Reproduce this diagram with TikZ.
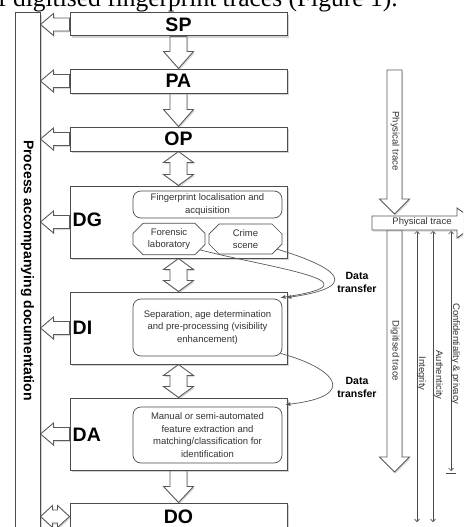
\documentclass[tikz,border=0pt]{standalone}
\usepackage{fontspec}
\setmainfont{Liberation Sans}
\newfontfamily\titlefont{Liberation Serif}
\usetikzlibrary{calc,shadows,shapes.misc,arrows.meta}
\pgfdeclarelayer{bg}
\pgfsetlayers{bg,main}
% block arrows: #1 tail, #2 tip, #3 shaft half width, #4 head half width, #5 head length
\newcommand\BlkDown[5]{\draw[blk] let \p1=(#1), \p2=(#2) in
  ({\x1-#3},\y1) -- ({\x1-#3},{\y2+#5}) -- ({\x1-#4},{\y2+#5}) -- (\x1,\y2) --
  ({\x1+#4},{\y2+#5}) -- ({\x1+#3},{\y2+#5}) -- ({\x1+#3},\y1) -- cycle;}
\newcommand\BlkUD[5]{\draw[blk] let \p1=(#1), \p2=(#2) in
  (\x1,\y1) -- ({\x1+#4},{\y1-#5}) -- ({\x1+#3},{\y1-#5}) -- ({\x1+#3},{\y2+#5}) --
  ({\x1+#4},{\y2+#5}) -- (\x1,\y2) -- ({\x1-#4},{\y2+#5}) -- ({\x1-#3},{\y2+#5}) --
  ({\x1-#3},{\y1-#5}) -- ({\x1-#4},{\y1-#5}) -- cycle;}
\newcommand\BlkLeft[5]{\draw[blk] let \p1=(#1), \p2=(#2) in
  (\x1,{\y1+#3}) -- ({\x2+#5},{\y1+#3}) -- ({\x2+#5},{\y1+#4}) -- (\x2,\y1) --
  ({\x2+#5},{\y1-#4}) -- ({\x2+#5},{\y1-#3}) -- (\x1,{\y1-#3}) -- cycle;}
\newcommand\BlkRight[5]{\draw[blk] let \p1=(#1), \p2=(#2) in
  (\x1,{\y1+#3}) -- ({\x2-#5},{\y1+#3}) -- ({\x2-#5},{\y1+#4}) -- (\x2,\y1) --
  ({\x2-#5},{\y1-#4}) -- ({\x2-#5},{\y1-#3}) -- (\x1,{\y1-#3}) -- cycle;}
\newcommand\BlkLR[5]{\draw[blk] let \p1=(#1), \p2=(#2) in
  (\x1,\y1) -- ({\x1+#5},{\y1+#4}) -- ({\x1+#5},{\y1+#3}) -- ({\x2-#5},{\y1+#3}) --
  ({\x2-#5},{\y1+#4}) -- (\x2,\y1) -- ({\x2-#5},{\y1-#4}) -- ({\x2-#5},{\y1-#3}) --
  ({\x1+#5},{\y1-#3}) -- ({\x1+#5},{\y1-#4}) -- cycle;}
\begin{document}
\begin{tikzpicture}[x=1pt,y=-1pt,
  blk/.style={draw=black!65, fill=white, line width=0.9pt, line join=miter,
    drop shadow={shadow xshift=1.2pt, shadow yshift=-1.5pt, opacity=0.3}},
  mainbox/.style={draw=black!70, fill=white, line width=1pt, inner sep=0pt,
    drop shadow={shadow xshift=1.5pt, shadow yshift=-2pt, opacity=0.35},
    font=\bfseries\fontsize{19.5}{20}\selectfont},
  biglabel/.style={anchor=west, inner sep=0pt, font=\bfseries\fontsize{19.5}{20}\selectfont},
  inbox/.style={draw=black!70, fill=white, line width=0.7pt, rounded corners=8pt,
    inner sep=0pt, align=center, text=black!80, font=\fontsize{9.5}{12.5}\selectfont},
  chbox/.style={draw=black!70, fill=white, line width=0.7pt, chamfered rectangle,
    chamfered rectangle xsep=5pt, chamfered rectangle ysep=5pt,
    inner sep=0pt, align=center, text=black!80, font=\fontsize{9.5}{12.5}\selectfont},
  small/.style={inner sep=0pt, text=black!80, font=\fontsize{9.5}{10}\selectfont},
  dtlabel/.style={align=center, inner sep=0pt, font=\bfseries\fontsize{10.5}{13}\selectfont},
  curve/.style={draw=black!65, line width=0.7pt, -{Latex[length=5pt,width=4pt]}},
  thinarr/.style={draw=black!70, line width=0.6pt, {Straight Barb[length=2.5pt,width=5pt]}-{Straight Barb[length=2.5pt,width=5pt]}}
]
\useasboundingbox (0,0) rectangle (463,527);
\clip (0,0) rectangle (463,527);

% title line (cut off at the top)
\node[anchor=base west, inner sep=0pt, font=\titlefont\fontsize{25.5}{26}\selectfont] (title) at (-2,6.5) {f digitised fingerprint traces (Figure 1).};

% documentation bar
\node[mainbox, minimum width=25pt, minimum height=530pt] (doc) at (27.5,278) {};
\node[rotate=-90, inner sep=0pt, font=\bfseries\fontsize{14}{14}\selectfont] (doct) at (27.5,270.5) {Process accompanying documentation};

% main boxes
\node[mainbox, minimum width=217pt, minimum height=23pt] (sp) at (178.5,24.5) {SP};
\node[mainbox, minimum width=217pt, minimum height=24pt] (pa) at (178.5,81) {PA};
\node[mainbox, minimum width=217pt, minimum height=24pt] (op) at (178.5,139) {OP};
\node[mainbox, minimum width=217pt, minimum height=72pt] (dg) at (178.5,222) {};
\node[mainbox, minimum width=217pt, minimum height=72pt] (di) at (178.5,328) {};
\node[mainbox, minimum width=217pt, minimum height=72pt] (da) at (178.5,434) {};
\node[mainbox, minimum width=217pt, minimum height=27pt] (do) at (178.5,516.5) {DO};

\node[biglabel] (dgl) at (72.5,220) {DG};
\node[biglabel] (dil) at (72.5,328) {DI};
\node[biglabel] (dal) at (72.5,435) {DA};

% inner boxes
\node[inbox, minimum width=149pt, minimum height=27pt] (fla) at (207.5,204.5) {Fingerprint localisation and\\acquisition};
\node[chbox, minimum width=72pt, minimum height=30pt] (fl) at (169,239) {Forensic\\laboratory};
\node[chbox, minimum width=73pt, minimum height=30pt] (cs) at (245.5,239) {Crime\\scene};
\node[inbox, minimum width=149pt, minimum height=57pt] (sep) at (207.5,327.5) {Separation, age determination\\and pre-processing (visibility\\enhancement)};
\node[inbox, minimum width=149pt, minimum height=56pt] (man) at (207.5,435) {Manual or semi-automated\\feature extraction and\\matching/classification for\\identification};

% block arrows behind the boxes
\begin{pgfonlayer}{bg}
\BlkDown{sp.south}{pa.north}{8.5pt}{15pt}{17pt}
\BlkDown{pa.south}{op.north}{8.5pt}{15pt}{17pt}
\BlkUD{op.south}{dg.north}{8.5pt}{15pt}{11pt}
\BlkUD{dg.south}{di.north}{8.5pt}{15pt}{11pt}
\BlkUD{di.south}{da.north}{8.5pt}{15pt}{11pt}
\BlkDown{da.south}{do.north}{8.5pt}{15pt}{16pt}
\BlkLeft{sp.west}{doc.east |- sp.west}{6.5pt}{11pt}{13pt}
\BlkLeft{pa.west}{doc.east |- pa.west}{6.5pt}{11pt}{13pt}
\BlkLeft{op.west}{doc.east |- op.west}{6.5pt}{11pt}{13pt}
\BlkLeft{dg.west}{doc.east |- dg.west}{6.5pt}{11pt}{13pt}
\BlkLeft{di.west}{doc.east |- di.west}{6.5pt}{11pt}{13pt}
\BlkLeft{da.west}{doc.east |- da.west}{6.5pt}{11pt}{13pt}
\BlkLR{doc.east |- do.west}{do.west}{6.5pt}{11pt}{12pt}
\end{pgfonlayer}

% data transfer curves
\draw[curve] (fl.south east) .. controls (270,268) and (385,282) .. ($(sep.north east)+(-2,-1)$);
\draw[curve] (cs.south east) .. controls (320,262) and (375,285) .. ($(sep.north east)+(4,-1)$);
\draw[curve] ($(sep.south east)+(-2,-3)$) .. controls (335,368) and (360,396) .. ($(man.north east)+(3,-2)$);
\node[dtlabel] (dt1) at (357,282) {Data\\transfer};
\node[dtlabel] (dt2) at (357,387) {Data\\transfer};

% right side
\coordinate (pt0) at (394.5,70);
\coordinate (pt1) at (394.5,214);
\coordinate (dg0) at (394.5,230);
\coordinate (dg1) at (394.5,472);
\coordinate (ph0) at (372,223);
\coordinate (ph1) at (478,223);
\coordinate (in0) at (417,231);
\coordinate (in1) at (417,522);
\coordinate (au0) at (433,231);
\coordinate (au1) at (433,522);
\coordinate (co0) at (451,231);
\coordinate (co1) at (451,473);

\BlkDown{pt0}{pt1}{7.5pt}{15pt}{15pt}
\BlkDown{dg0}{dg1}{7.5pt}{15pt}{15pt}
\draw[thinarr] (in0) -- (in1);
\draw[thinarr] (au0) -- (au1);
\draw[thinarr, shorten >=2pt] (co0) -- (co1);
\draw[draw=black!70, line width=0.8pt] ($(co1)+(-5,0)$) -- ($(co1)+(5,0)$);
\BlkRight{ph0}{ph1}{7pt}{15pt}{21pt}

\node[small] (pht) at (422,222.5) {Physical trace};
\node[small, rotate=-90] (ptv) at (395,141) {Physical trace};
\node[small, rotate=-90] (dtv) at (395,351) {Digitised trace};
\node[small, rotate=-90] (intl) at (421.5,373.5) {Integrity};
\node[small, rotate=-90] (autl) at (438.5,375) {Authenticity};
\node[small, rotate=-90] (conl) at (455.5,354) {Confidentiality \& privacy};
\end{tikzpicture}
\end{document}
